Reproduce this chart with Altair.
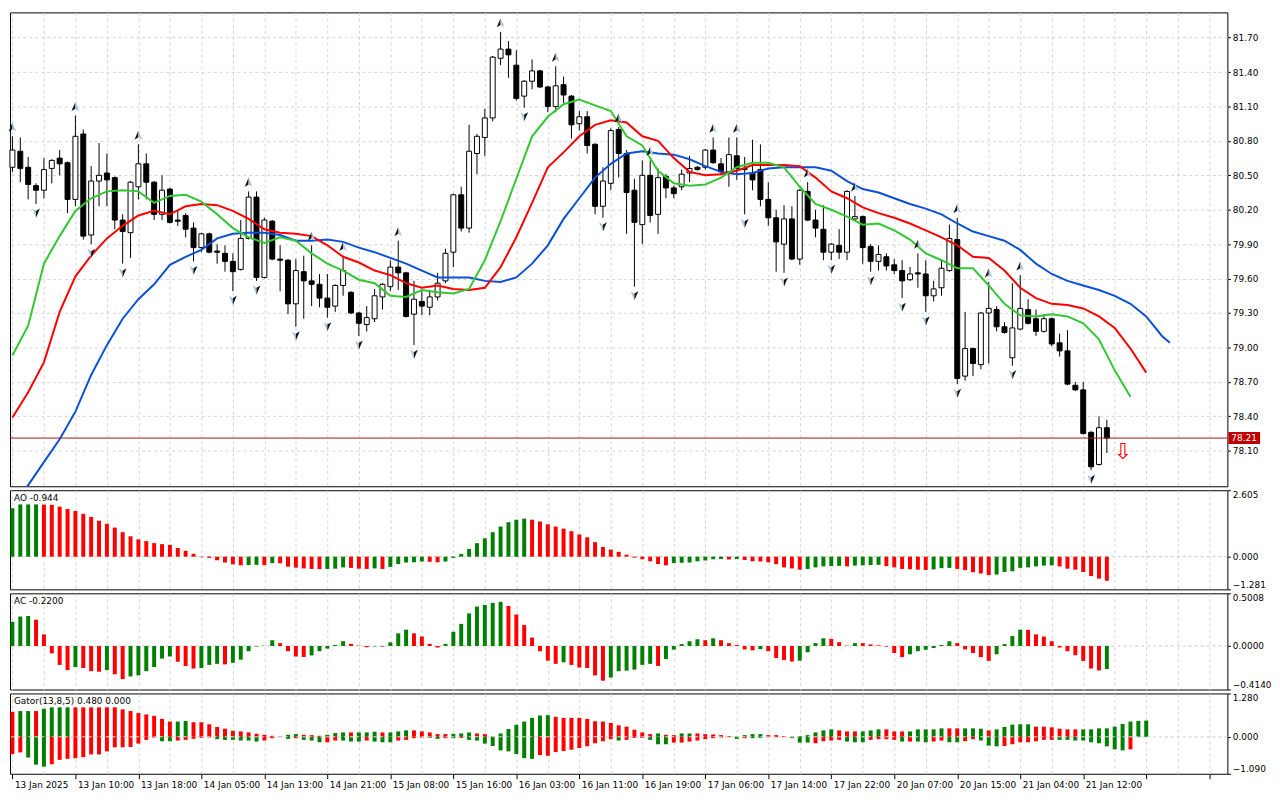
import altair as alt
import pandas as pd

# ---------------- data ----------------
x_labels = ["13 Jan 2025", "13 Jan 10:00", "13 Jan 18:00", "14 Jan 05:00", "14 Jan 13:00",
            "14 Jan 21:00", "15 Jan 08:00", "15 Jan 16:00", "16 Jan 03:00", "16 Jan 11:00",
            "16 Jan 19:00", "17 Jan 06:00", "17 Jan 14:00", "17 Jan 22:00", "20 Jan 07:00",
            "20 Jan 15:00", "21 Jan 04:00", "21 Jan 12:00"]

opens = [80.57,80.71,80.57,80.41,80.37,80.56,80.65,80.61,80.29,80.86, 79.98,80.45,80.52,80.48,80.11,80.00,80.40,80.60,80.44,80.16,
         80.38,80.11,80.15,80.04,79.87,79.99,79.84,79.82,79.75,79.68, 79.95,80.31,79.61,80.10,79.77,79.76,79.38,79.66,79.58,79.55,
         79.43,79.36,79.54,79.48,79.30,79.20,79.25,79.44,79.53,79.70, 79.65,79.29,79.40,79.35,79.44,79.58,79.83,80.33,80.04,80.69,
         80.83,81.00,81.52,81.60,81.46,81.19,81.32,81.41,81.27,81.10, 81.29,81.19,80.95,81.01,80.77,80.23,80.43,80.90,80.69,80.37,
         80.07,80.50,80.16,80.49,80.39,80.40,80.52,80.57,80.57,80.72, 80.60,80.53,80.67,80.56,80.52,80.55,80.29,80.13,79.90,80.12,
         79.77,80.36,80.11,80.03,79.83,79.89,79.83,80.12,80.14,79.88, 79.75,79.79,79.72,79.67,79.59,79.65,79.64,79.45,79.52,79.67,
         79.94,78.75,78.99,78.85,79.30,79.33,79.18,78.91,79.16,79.33, 79.25,79.14,79.25,79.04,78.97,78.67,78.63,78.26,77.98,78.30]
highs = [80.84,80.83,80.66,80.43,80.65,80.64,80.72,80.62,81.02,80.90, 80.58,80.78,80.69,80.49,80.16,80.45,80.77,80.69,80.45,80.50,
         80.39,80.20,80.17,80.09,80.00,80.00,79.90,79.89,79.82,80.11, 80.36,80.36,80.13,80.11,79.89,79.77,79.77,79.80,79.89,79.64,
         79.64,79.55,79.80,79.49,79.31,79.36,79.51,79.56,79.76,79.93, 79.66,79.58,79.49,79.50,79.65,79.86,80.34,80.40,80.94,80.86,
         81.08,81.54,81.75,81.67,81.59,81.33,81.51,81.42,81.28,81.45, 81.36,81.20,81.06,81.06,80.78,80.57,80.91,80.92,80.72,80.47,
         80.63,80.63,80.56,80.51,80.41,80.55,80.67,80.58,80.73,80.83, 80.65,80.83,80.83,80.66,80.81,80.77,80.44,80.20,80.24,80.23,
         80.38,80.44,80.20,80.24,79.91,80.03,80.37,80.32,80.15,79.90, 79.89,79.82,79.77,79.76,79.70,79.82,79.76,79.58,79.76,80.07,
         80.13,79.31,79.00,79.31,79.57,79.36,79.22,79.56,79.63,79.42, 79.33,79.29,79.26,79.12,79.15,78.70,78.70,78.27,78.40,78.37]
lows = [80.53,80.44,80.29,80.25,80.30,80.43,80.50,80.17,80.23,79.94, 79.90,80.23,80.23,80.03,79.73,79.78,80.29,80.29,80.11,80.11,
        80.08,80.06,79.96,79.75,79.83,79.82,79.73,79.66,79.49,79.67, 79.94,79.58,79.60,79.76,79.49,79.29,79.18,79.25,79.36,79.35,
        79.26,79.31,79.45,79.29,79.10,79.14,79.22,79.33,79.49,79.50, 79.26,79.02,79.28,79.28,79.41,79.56,79.70,80.01,80.00,80.51,
        80.67,80.97,81.46,81.35,81.15,81.09,81.25,81.26,81.05,81.05, 81.13,80.82,80.89,80.69,80.16,80.13,80.37,80.48,79.99,79.53,
        79.90,80.09,79.99,80.30,80.30,80.37,80.44,80.54,80.55,80.60, 80.51,80.40,80.46,80.16,80.37,80.23,80.06,79.66,79.65,79.76,
        79.72,80.10,79.96,79.76,79.76,79.77,79.76,80.11,79.73,79.66, 79.67,79.67,79.64,79.43,79.58,79.52,79.31,79.40,79.45,79.66,
        78.68,78.71,78.75,78.81,78.86,79.14,79.12,78.84,79.15,79.20, 79.10,79.13,79.01,78.92,78.67,78.62,78.24,77.93,77.97,78.08]
closes = [80.72,80.56,80.42,80.37,80.55,80.63,80.60,80.29,80.84,79.97, 80.45,80.50,80.46,80.11,80.01,80.44,80.60,80.44,80.16,80.37,
          80.09,80.10,80.03,79.87,79.99,79.83,79.83,79.75,79.66,79.95, 80.31,79.61,80.11,79.77,79.76,79.38,79.67,79.58,79.55,79.43,
          79.35,79.54,79.67,79.30,79.21,79.26,79.45,79.55,79.70,79.65, 79.27,79.42,79.36,79.44,79.56,79.82,80.33,80.04,80.71,80.84,
          81.00,81.53,81.60,81.55,81.17,81.32,81.41,81.27,81.10,81.28, 81.20,80.94,81.01,80.76,80.23,80.45,80.89,80.69,80.35,80.09,
          80.50,80.15,80.48,80.39,80.34,80.51,80.56,80.55,80.72,80.61, 80.53,80.68,80.56,80.55,80.46,80.29,80.13,79.92,80.12,79.77,
          80.37,80.11,80.04,79.83,79.90,79.83,80.36,80.14,79.87,79.75, 79.81,79.71,79.67,79.58,79.64,79.64,79.45,79.51,79.69,79.95,
          78.73,78.99,78.86,79.30,79.34,79.18,79.13,79.17,79.34,79.21, 79.14,79.25,79.03,78.97,78.68,78.63,78.25,77.96,78.30,78.21]

frac_up = [0, 8, 16, 30, 38, 42, 49, 62, 69, 77, 81, 89, 92, 101, 107, 115, 120, 124, 128]
frac_dn = [3, 10, 14, 23, 28, 31, 36, 40, 44, 51, 65, 75, 79, 93, 98, 104, 109, 113, 116, 120, 127, 137]

lips_i = list(range(0, 143, 2))
lips_v = [78.93,79.19,79.73,79.97,80.19,80.30,80.36,80.37,80.36,80.26, 80.32,80.33,80.27,80.16,80.04,79.96,79.91,79.96,79.93,79.82,
          79.73,79.67,79.59,79.56,79.45,79.44,79.50,79.48,79.47,79.51, 79.76,80.10,80.47,80.84,81.01,81.12,81.16,81.11,81.06,80.84,
          80.76,80.54,80.43,80.41,80.42,80.48,80.57,80.61,80.61,80.57, 80.40,80.25,80.20,80.14,80.07,80.08,80.02,79.94,79.82,79.76,
          79.69,79.69,79.54,79.38,79.28,79.27,79.29,79.27,79.21,79.07, 78.80,78.57]
teeth_i = list(range(0, 145, 2))
teeth_v = [78.39,78.61,78.87,79.31,79.62,79.80,79.95,80.06,80.15,80.19, 80.16,80.23,80.25,80.24,80.19,80.12,80.03,80.00,79.99,79.97,
           79.89,79.79,79.74,79.67,79.63,79.56,79.52,79.54,79.51,79.50, 79.52,79.70,79.96,80.26,80.57,80.70,80.84,80.94,80.98,80.96,
           80.84,80.80,80.65,80.53,80.50,80.51,80.54,80.59,80.59,80.59, 80.58,80.48,80.36,80.30,80.22,80.17,80.13,80.08,80.02,79.96,
           79.89,79.79,79.78,79.67,79.52,79.43,79.38,79.37,79.34,79.27, 79.17,78.99,78.78]
jaw_i = list(range(0, 147, 2)) + [147]
jaw_v = [77.59,77.80,78.00,78.20,78.44,78.76,79.02,79.25,79.42,79.55, 79.72,79.79,79.85,79.95,79.99,80.00,80.00,79.98,79.93,79.93,
         79.94,79.92,79.87,79.83,79.78,79.73,79.67,79.61,79.61,79.61, 79.58,79.57,79.61,79.73,79.89,80.12,80.30,80.48,80.60,80.69,
         80.71,80.69,80.68,80.64,80.58,80.53,80.51,80.52,80.56,80.57, 80.57,80.57,80.54,80.45,80.38,80.35,80.30,80.25,80.21,80.16,
         80.08,80.01,79.97,79.93,79.85,79.73,79.64,79.58,79.54,79.50, 79.45,79.38,79.27,79.10,79.04]

last_price = 78.21
signal_i = [141]
signal_p = [78.09]

ao_v = [1.90,2.05,2.05,2.05,2.04,2.03,1.96,1.87,1.79,1.68, 1.56,1.41,1.29,1.14,0.96,0.80,0.68,0.61,0.53,0.49,
        0.46,0.34,0.23,0.11,-0.02,-0.05,-0.14,-0.23,-0.30,-0.34, -0.33,-0.32,-0.34,-0.25,-0.26,-0.39,-0.43,-0.46,-0.48,-0.49,
        -0.48,-0.47,-0.42,-0.44,-0.47,-0.48,-0.46,-0.48,-0.40,-0.29, -0.23,-0.22,-0.19,-0.20,-0.22,-0.19,-0.05,0.11,0.30,0.53,
        0.72,0.96,1.18,1.35,1.45,1.49,1.45,1.38,1.27,1.18, 1.10,1.00,0.87,0.76,0.57,0.38,0.28,0.19,0.08,-0.04,
        -0.10,-0.18,-0.29,-0.34,-0.25,-0.24,-0.23,-0.18,-0.15,-0.10, -0.09,-0.11,-0.09,-0.13,-0.18,-0.19,-0.22,-0.29,-0.42,-0.46,
        -0.51,-0.48,-0.42,-0.38,-0.37,-0.36,-0.38,-0.35,-0.34,-0.33, -0.32,-0.37,-0.42,-0.48,-0.49,-0.51,-0.52,-0.50,-0.45,-0.44,
        -0.48,-0.53,-0.61,-0.66,-0.72,-0.70,-0.60,-0.57,-0.44,-0.42, -0.38,-0.35,-0.34,-0.38,-0.47,-0.51,-0.60,-0.76,-0.86,-0.944]
ao_c = list("ggggrrrrrr" "rrrrrrrrrr" "rrrrrrrrrr" "ggrgrrrrrr" "gggrrrgrgg" "gggrrggggg" "ggggggrrrr"
            "rrrrrrrrrr" "rrrrgggggg" "grgrrrrrrr" "rgggggrggg" "grrrrrrggg" "rrrrrggggg" "gggrrrrrrr")

ac_v = [0.23,0.28,0.285,0.25,0.11,-0.07,-0.18,-0.23,-0.20,-0.21, -0.24,-0.245,-0.23,-0.27,-0.315,-0.29,-0.28,-0.24,-0.20,-0.12,
        -0.10,-0.15,-0.19,-0.215,-0.21,-0.18,-0.17,-0.175,-0.16,-0.13, -0.05,-0.005,0.003,0.055,0.027,-0.05,-0.10,-0.105,-0.09,-0.05,
        -0.025,0.01,0.045,0.02,0.003,-0.012,-0.004,-0.006,0.035,0.12, 0.155,0.12,0.09,0.02,-0.015,0.02,0.135,0.21,0.31,0.375,
        0.39,0.41,0.42,0.38,0.30,0.20,0.08,-0.05,-0.14,-0.17, -0.155,-0.18,-0.205,-0.21,-0.28,-0.33,-0.30,-0.24,-0.235,-0.225,
        -0.18,-0.17,-0.19,-0.125,-0.035,0.018,0.045,0.064,0.055,0.073, 0.055,0.027,0.01,-0.033,-0.042,-0.03,-0.05,-0.115,-0.133,-0.148,
        -0.14,-0.06,0.027,0.073,0.067,0.036,0.003,0.027,0.027,0.015, 0.006,-0.006,-0.067,-0.106,-0.079,-0.05,-0.036,-0.02,0.01,0.045,
        0.027,-0.033,-0.067,-0.106,-0.142,-0.079,0.018,0.094,0.155,0.153, 0.11,0.09,0.045,-0.015,-0.05,-0.088,-0.142,-0.215,-0.233,-0.22]
ac_c = list("gggrrrrrgr" "rrgrrggggg" "grrrgggrgg" "ggggrrrrgg" "gggrrrgrgg" "grrrrggggg" "gggrrrrrrr"
            "grrrrrgggg" "ggrgggggrg" "rrrrrgrrrr" "ggggrrrgrr" "rrrrgggggg" "rrrrrggggr" "rrrrrrrrrg")

gu_v = [0.74,0.76,0.76,0.76,0.83,0.87,0.87,0.87,0.87,0.87, 0.87,0.87,0.87,0.87,0.81,0.76,0.70,0.66,0.62,0.53,
        0.45,0.45,0.47,0.43,0.43,0.37,0.29,0.24,0.18,0.16, 0.13,0.09,0.06,0.03,0.01,0.06,0.08,0.06,0.05,0.03,
        0.06,0.11,0.13,0.13,0.13,0.13,0.15,0.13,0.13,0.16, 0.19,0.19,0.16,0.13,0.08,0.08,0.09,0.10,0.13,0.10,
        0.08,0.01,0.10,0.23,0.36,0.45,0.56,0.63,0.64,0.59, 0.56,0.56,0.56,0.53,0.46,0.45,0.41,0.34,0.30,0.21,
        0.13,0.08,0.10,0.06,0.05,0.10,0.10,0.10,0.08,0.07, 0.05,0.02,0.01,0.05,0.08,0.08,0.05,0.05,0.02,0.01,
        0.02,0.05,0.13,0.19,0.22,0.19,0.16,0.16,0.16,0.19, 0.22,0.22,0.16,0.16,0.16,0.22,0.22,0.22,0.25,0.25,
        0.25,0.25,0.25,0.24,0.19,0.22,0.29,0.36,0.37,0.37, 0.30,0.30,0.28,0.24,0.22,0.22,0.22,0.22,0.25,0.25,
        0.30,0.38,0.45,0.47,0.48]
gu_c = list("rggrggggrr" "rrrrrrrrrr" "rggrrrrrrr" "rrrrrggrrr" "gggrgggrgg" "grrrrrgggr" "rggggggggr"
            "rrrrrrrrrr" "rrgrrggrrr" "rrggggrrrr" "gggggrrrgg" "grrrgggggr" "rgggrggggg" "rrrrrrgggg" "ggggg")

gd_v = [-0.51,-0.46,-0.61,-0.82,-0.88,-0.81,-0.68,-0.65,-0.63,-0.60, -0.52,-0.52,-0.43,-0.31,-0.31,-0.30,-0.20,-0.09,-0.02,-0.13,
        -0.13,-0.11,-0.09,-0.06,-0.03,-0.02,-0.07,-0.09,-0.09,-0.11, -0.11,-0.14,-0.11,-0.04,-0.01,-0.06,-0.04,-0.09,-0.11,-0.16,
        -0.16,-0.11,-0.11,-0.14,-0.14,-0.11,-0.14,-0.16,-0.16,-0.11, -0.09,-0.04,-0.02,-0.03,-0.06,-0.04,-0.04,-0.03,-0.09,-0.11,
        -0.20,-0.27,-0.40,-0.43,-0.51,-0.63,-0.65,-0.54,-0.56,-0.45, -0.42,-0.38,-0.33,-0.28,-0.19,-0.13,-0.07,-0.11,-0.09,-0.03,
        -0.03,-0.09,-0.22,-0.22,-0.17,-0.17,-0.14,-0.11,-0.07,-0.04, -0.02,-0.01,-0.06,-0.04,-0.04,-0.03,-0.01,-0.01,-0.01,-0.04,
        -0.17,-0.17,-0.19,-0.13,-0.11,-0.09,-0.14,-0.16,-0.16,-0.09, -0.07,-0.07,-0.09,-0.14,-0.14,-0.14,-0.16,-0.14,-0.11,-0.16,
        -0.16,-0.13,-0.07,-0.11,-0.26,-0.28,-0.27,-0.22,-0.16,-0.16, -0.13,-0.09,-0.09,-0.09,-0.09,-0.11,-0.11,-0.16,-0.19,-0.28,
        -0.37,-0.40,-0.37]
gd_c = list("rrgggrrrrr" "rrrrrrrrrg" "grrrrrgggg" "ggrrggrggg" "rrgggrgggr" "rrrggrgrgg" "gggggggrrr"
            "rrrrrrrgrr" "rgggrrrrrr" "rrgrggrrrg" "ggrrrrgggr" "rrrgrggrrg" "grrgggrrrr" "rrrggggggg" "ggr")

# ---------------- layout / style ----------------
W = 1228
H_MAIN, H_AO, H_AC, H_G = 478, 100, 97, 81
XDOM = [-0.31, 154.31]
FONT = "DejaVu Sans"
GRID = "#D4D4D4"
GREEN, RED = "#008000", "#FF0000"
price_ticks = [81.70, 81.40, 81.10, 80.80, 80.50, 80.20, 79.90, 79.60, 79.30, 79.00, 78.70, 78.40, 78.10]
tick_vals = list(range(0, 155, 4))
lab_arr = "[" + ",".join("'" + s + "'" for s in x_labels) + "]"
col_scale = alt.Scale(domain=["g", "r"], range=[GREEN, RED])


def xaxis(bottom=False):
    common = dict(values=tick_vals, grid=True, gridDash=[3, 3], gridColor=GRID, gridWidth=1,
                  domain=False, title=None, labelOverlap=False)
    if bottom:
        return alt.Axis(**common,
                        labelExpr="(datum.value % 8 === 0 && datum.value <= 136) ? " + lab_arr + "[datum.value / 8] : ''",
                        labelAlign="left", labelOffset=2, labelPadding=2, tickSize=5, labelFlush=False,
                        labelBound=False,
                        tickColor={"condition": {"test": "datum.value % 8 === 0", "value": "#000000"},
                                   "value": "transparent"})
    return alt.Axis(**common, labels=False, ticks=False)


def X(field="i", bottom=False):
    return alt.X(field + ":Q", scale=alt.Scale(domain=XDOM, nice=False, zero=False, padding=0),
                 axis=xaxis(bottom))


def Ymain(field):
    return alt.Y(field + ":Q", scale=alt.Scale(domain=[77.79, 81.92], nice=False, zero=False),
                 axis=alt.Axis(orient="right", values=price_ticks, format=".2f", grid=True, gridDash=[3, 3],
                               gridColor=GRID, domain=False, tickSize=3, labelPadding=2, title=None,
                               labelOverlap=False))


def Ysub(field, dom, vals, fmt):
    return alt.Y(field + ":Q", scale=alt.Scale(domain=dom, nice=False, zero=False),
                 axis=alt.Axis(orient="right", values=vals, format=fmt, grid=False, domain=False, tickSize=3,
                               labelPadding=2, labelFlush=True, title=None, labelOverlap=False))


# ---------------- main panel ----------------
n = len(opens)
cdf = pd.DataFrame({"i": list(range(n)), "o": opens, "h": highs, "l": lows, "c": closes})
cdf["d"] = ["up" if c > o else "dn" for o, c in zip(opens, closes)]

wicks = alt.Chart(cdf).mark_rule(color="#000", strokeWidth=1).encode(x=X(), y=Ymain("l"), y2="h:Q")
bodies = alt.Chart(cdf).mark_bar(width=5, stroke="#000", strokeWidth=1).encode(
    x=X(), y=Ymain("o"), y2="c:Q",
    fill=alt.Fill("d:N", scale=alt.Scale(domain=["up", "dn"], range=["#FFFFFF", "#000000"]), legend=None))

jaw = alt.Chart(pd.DataFrame({"i": jaw_i, "v": jaw_v})).mark_line(color="#0A50D8", strokeWidth=2, clip=True).encode(
    x=X(), y=Ymain("v"))
teeth = alt.Chart(pd.DataFrame({"i": teeth_i, "v": teeth_v})).mark_line(color="#FF0000", strokeWidth=2, clip=True).encode(
    x=X(), y=Ymain("v"))
lips = alt.Chart(pd.DataFrame({"i": lips_i, "v": lips_v})).mark_line(color="#32C832", strokeWidth=2, clip=True).encode(
    x=X(), y=Ymain("v"))

up_df = pd.DataFrame({"i": frac_up, "v": [highs[k] for k in frac_up]})
dn_df = pd.DataFrame({"i": frac_dn, "v": [lows[k] for k in frac_dn]})
# two-tone arrowheads (dark left half, light right half)
UP_L = "M0,-1L0,0.4L-0.8,0.9Z"
UP_R = "M0,-1L0.8,0.9L0,0.4Z"
DN_L = "M0,1L0,-0.4L-0.8,-0.9Z"
DN_R = "M0,1L0.8,-0.9L0,-0.4Z"


def frac_layer(df, shape, col, off):
    return alt.Chart(df).mark_point(shape=shape, filled=True, size=95, color=col, strokeWidth=0,
                                    yOffset=off, opacity=1).encode(x=X(), y=Ymain("v"))


fr = [frac_layer(up_df, UP_L, "#111111", -9), frac_layer(up_df, UP_R, "#A8C4E0", -9),
      frac_layer(dn_df, DN_L, "#A8C4E0", 9), frac_layer(dn_df, DN_R, "#111111", 9)]

pdf = pd.DataFrame({"p": [last_price], "t": [f"{last_price:.2f}"]})
pline = alt.Chart(pdf).mark_rule(color="#A01818", strokeWidth=1).encode(y=Ymain("p"))
pbox = alt.Chart(pdf).mark_rule(color="#C00000", strokeWidth=12).encode(
    x=alt.value(W + 1), x2=alt.value(W + 33), y=Ymain("p"))
ptext = alt.Chart(pdf).mark_text(align="left", baseline="middle", color="#FFFFFF", fontSize=9, font=FONT).encode(
    x=alt.value(W + 4), y=Ymain("p"), text="t:N")

sig = alt.Chart(pd.DataFrame({"i": signal_i, "v": signal_p, "t": ["\u21e9"] * len(signal_i)})).mark_text(
    color=RED, fontSize=22, font=FONT, baseline="middle").encode(x=X(), y=Ymain("v"), text="t:N")

main = alt.layer(wicks, bodies, jaw, teeth, lips, *fr, pline, pbox, ptext, sig).properties(
    width=W, height=H_MAIN)


# ---------------- sub panels ----------------
def label_layer(txt):
    return alt.Chart(pd.DataFrame({"t": [txt]})).mark_text(
        align="left", baseline="top", fontSize=9, font=FONT, color="#000").encode(
        x=alt.value(4), y=alt.value(4), text="t:N")


def hist_panel(vals, cols, dom, ticks, fmt, title, height, bottom=False, extra=None):
    df = pd.DataFrame({"i": list(range(len(vals))), "v": vals, "c": cols, "z": [0.0] * len(vals)})
    zero = alt.Chart(pd.DataFrame({"z": [0.0]})).mark_rule(color="#C8C8C8", strokeDash=[3, 3]).encode(
        y=Ysub("z", dom, ticks, fmt))
    bars = alt.Chart(df).mark_bar(width=4).encode(
        x=X(bottom=bottom), y=Ysub("v", dom, ticks, fmt), y2="z:Q",
        color=alt.Color("c:N", scale=col_scale, legend=None))
    layers = [zero, bars]
    if extra is not None:
        dfe = pd.DataFrame({"i": list(range(len(extra[0]))), "v": extra[0], "c": extra[1],
                            "z": [0.0] * len(extra[0])})
        layers.append(alt.Chart(dfe).mark_bar(width=4).encode(
            x=X(bottom=bottom), y=Ysub("v", dom, ticks, fmt), y2="z:Q",
            color=alt.Color("c:N", scale=col_scale, legend=None)))
        layers.append(alt.Chart(pd.DataFrame({"z": [0.0]})).mark_rule(
            color="#E6E6E6", strokeDash=[3, 3]).encode(y=Ysub("z", dom, ticks, fmt)))
    layers.append(label_layer(title))
    return alt.layer(*layers).properties(width=W, height=height)


ao = hist_panel(ao_v, ao_c, [-1.281, 2.605], [2.605, 0.0, -1.281], ".3f", "AO -0.944", H_AO)
ac = hist_panel(ac_v, ac_c, [-0.414, 0.5008], [0.5008, 0.0, -0.414], ".4f", "AC -0.2200", H_AC)
gator = hist_panel(gu_v, gu_c, [-1.09, 1.28], [1.28, 0.0, -1.09], ".3f", "Gator(13,8,5) 0.480 0.000", H_G,
                   bottom=True, extra=(gd_v, gd_c))

chart = alt.vconcat(main, ao, ac, gator, spacing=2).properties(
    padding={"left": 0, "top": 0, "right": 0, "bottom": 0}, background="#FFFFFF"
).configure_view(stroke="#000000", strokeWidth=1).configure_axis(
    labelFont=FONT, labelFontSize=9, labelColor="#000000", tickColor="#000000"
).resolve_scale(x="independent")

chart.save("out.html", embed_options={"renderer": "svg", "actions": False})
